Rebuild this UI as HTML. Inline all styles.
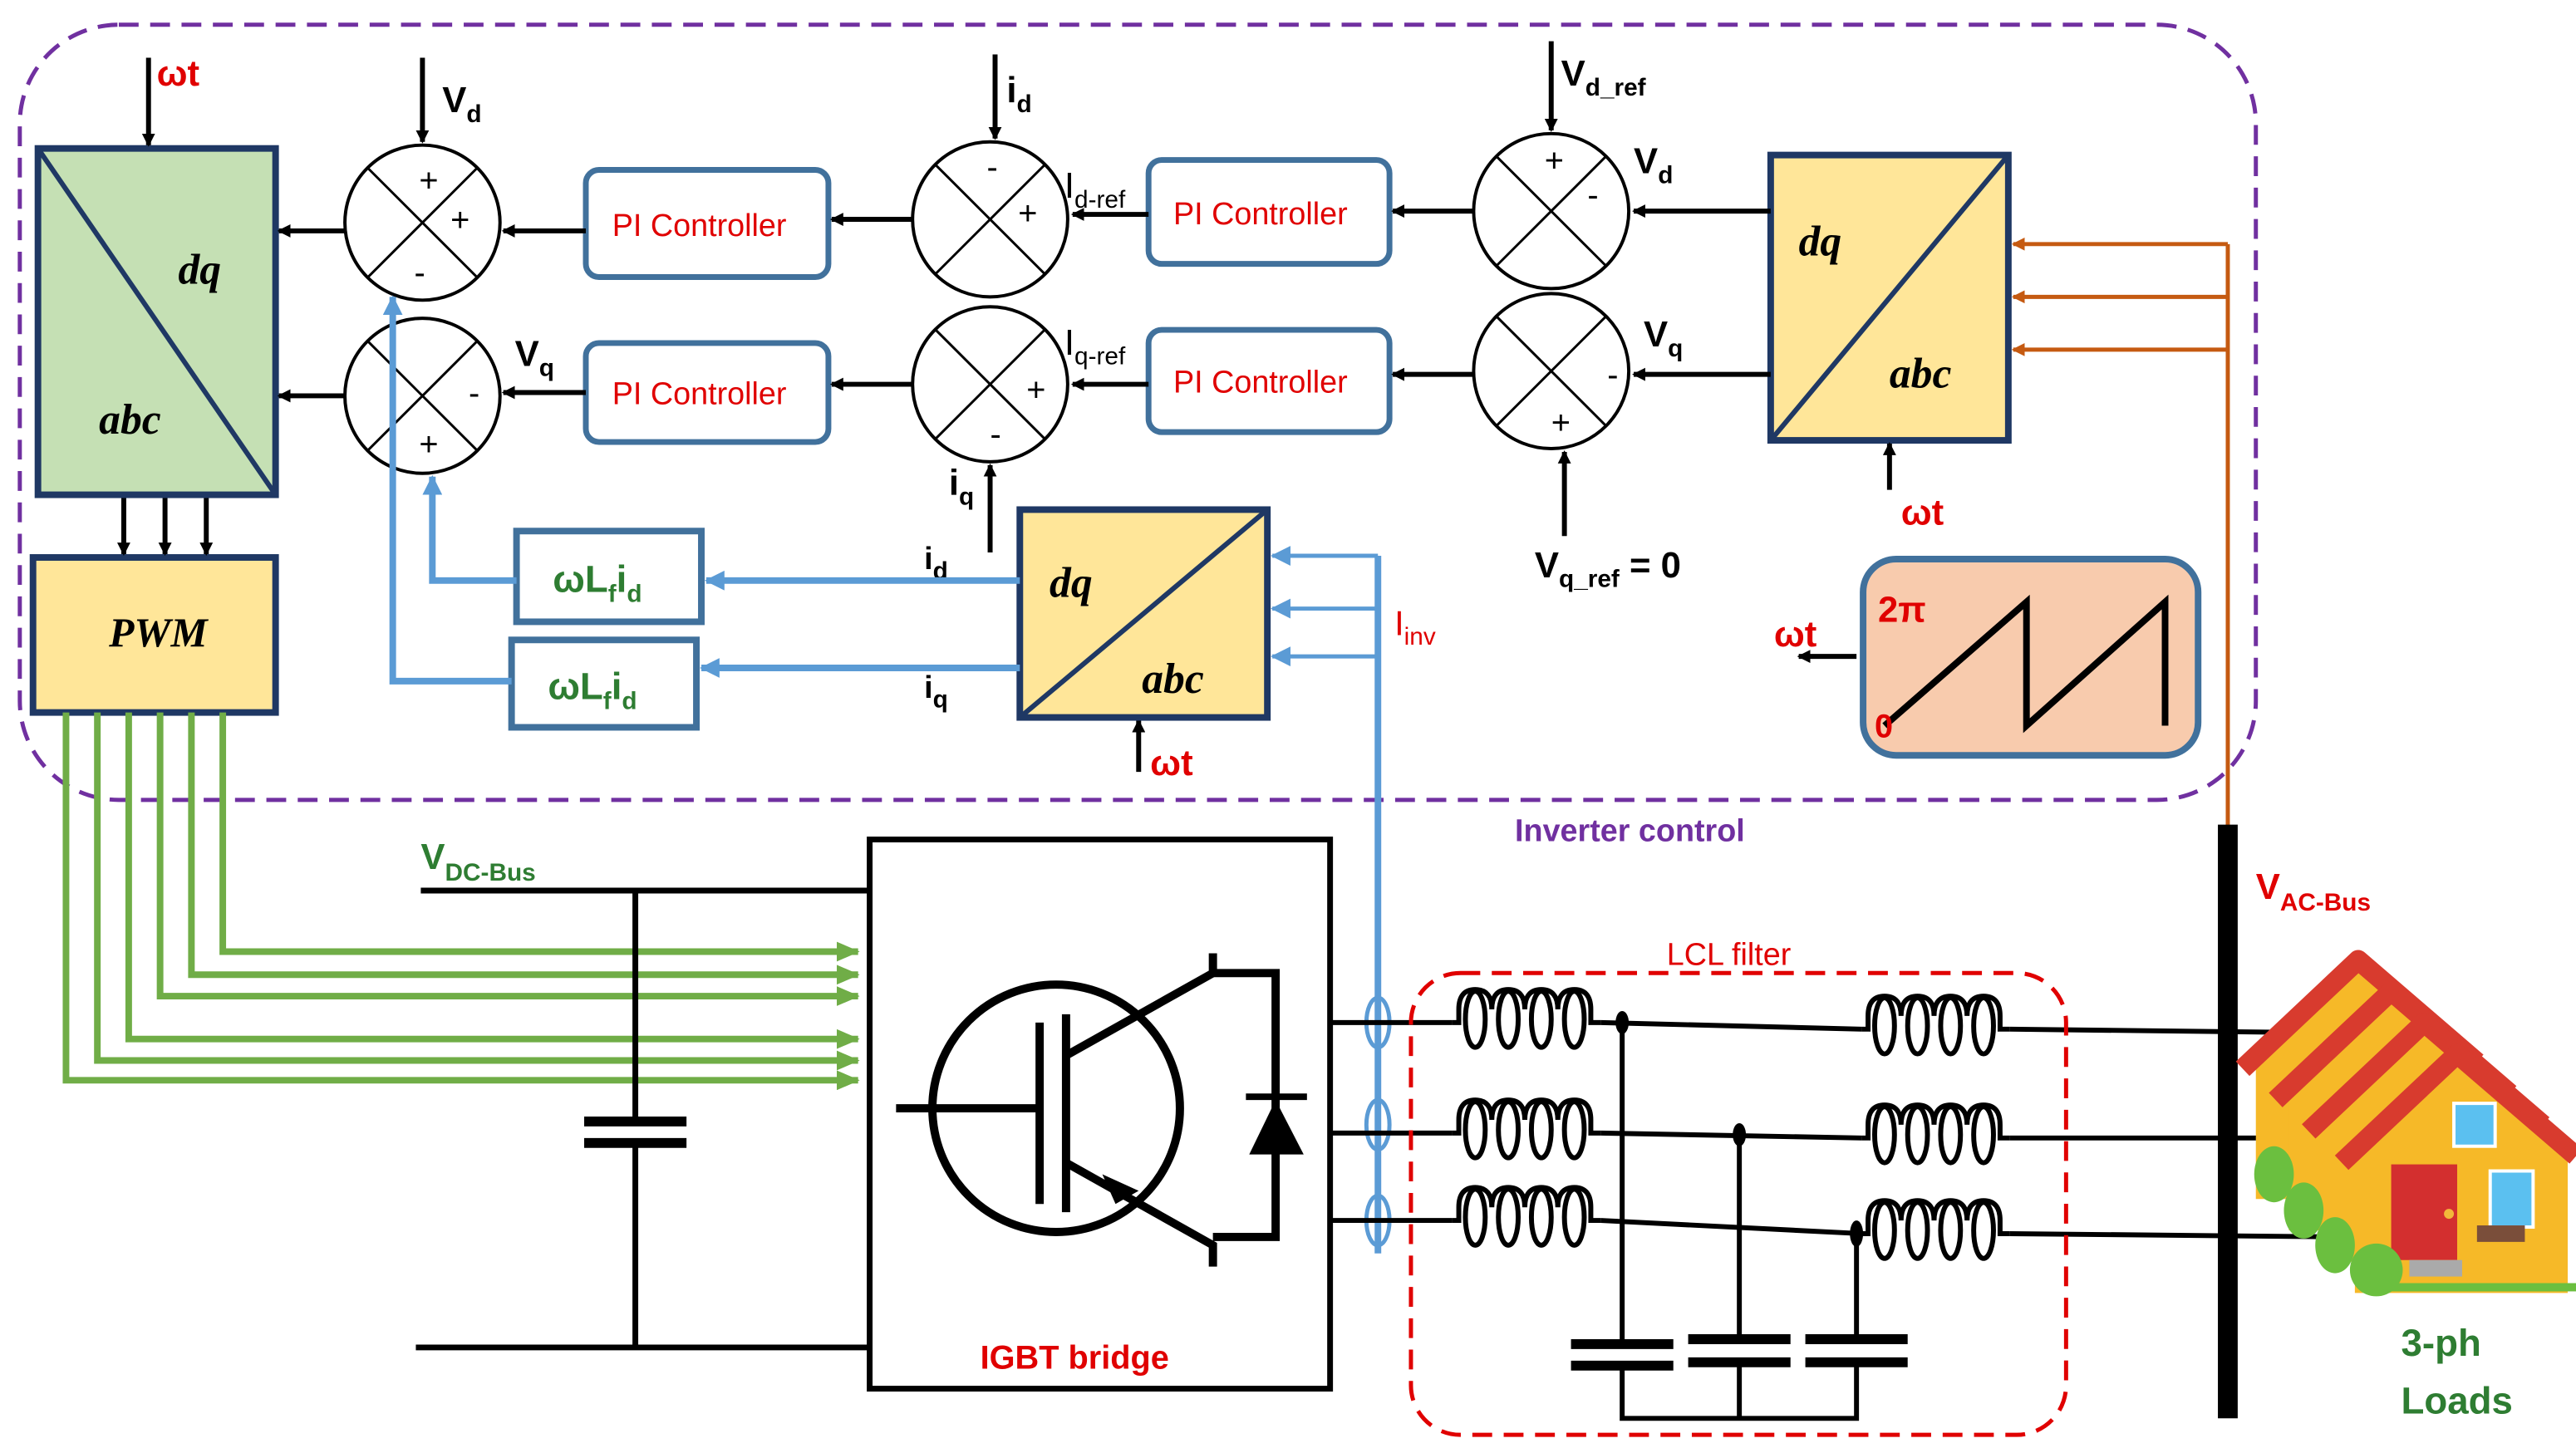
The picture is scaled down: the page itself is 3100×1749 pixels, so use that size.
<!DOCTYPE html>
<html><head><meta charset="utf-8"><style>
html,body{margin:0;padding:0;background:#fff;}
svg{display:block;}
text{font-family:"Liberation Sans",sans-serif;}
.pi{fill:#e00000;font-size:19px;}
.lb{font-weight:bold;font-size:22px;fill:#000;}
.sub{font-size:15px;}
.ser{font-family:"Liberation Serif",serif;font-style:italic;font-weight:bold;font-size:26px;}
</style></head><body>
<svg width="3100" height="1749" viewBox="0 0 1561 881" preserveAspectRatio="none" xmlns="http://www.w3.org/2000/svg">
<defs>
<marker id="ak" markerWidth="8" markerHeight="8" refX="7" refY="4" orient="auto" markerUnits="userSpaceOnUse"><path d="M0,0 L8,4 L0,8 z" fill="#000"/></marker>
<marker id="ab" markerWidth="12" markerHeight="12" refX="11" refY="6" orient="auto" markerUnits="userSpaceOnUse"><path d="M0,0 L12,6 L0,12 z" fill="#5b9bd5"/></marker>
<marker id="ao" markerWidth="8" markerHeight="8" refX="7" refY="4" orient="auto" markerUnits="userSpaceOnUse"><path d="M0,0 L8,4 L0,8 z" fill="#c55a11"/></marker>
<marker id="ag" markerWidth="14" markerHeight="12" refX="13" refY="6" orient="auto" markerUnits="userSpaceOnUse"><path d="M0,0 L14,6 L0,12 z" fill="#70ad47"/></marker>
<g id="coil" fill="none" stroke="#000" stroke-width="3">
<path d="M0,0 L4,0 L4,-8 Q4,-20 14,-20 Q24,-20 24,-8 M24,-8 Q24,-20 34,-20 Q44,-20 44,-8 M44,-8 Q44,-20 54,-20 Q64,-20 64,-8 M64,-8 Q64,-20 74,-20 Q84,-20 84,-8 L84,0 L90,0"/>
<ellipse cx="14" cy="-2" rx="6" ry="17"/>
<ellipse cx="34" cy="-2" rx="6" ry="17"/>
<ellipse cx="54" cy="-2" rx="6" ry="17"/>
<ellipse cx="74" cy="-2" rx="6" ry="17"/>
</g>
<g id="house">
<path d="M-62,58 L0,0 L67,58 L67,145 L-62,145 z" fill="#f6b928"/>
<path d="M-70,66 L0,0 L72,62" fill="none" stroke="#d83b2e" stroke-width="12" stroke-linejoin="round"/>
</g>
</defs>
<rect x="0" y="0" width="1561" height="881" fill="#fff"/>
<!-- inverter control boundary -->
<rect x="12" y="15" width="1355" height="470" rx="60" fill="none" stroke="#7030a0" stroke-width="2.5" stroke-dasharray="12 7"/>
<text x="918" y="510" fill="#7030a0" font-weight="bold" font-size="19">Inverter control</text>

<!-- left dq/abc -->
<rect x="23" y="90" width="144" height="210" fill="#c5e0b4" stroke="#1f3864" stroke-width="4"/>
<line x1="23" y1="90" x2="167" y2="300" stroke="#1f3864" stroke-width="3"/>
<text x="108" y="172" class="ser">dq</text>
<text x="60" y="263" class="ser">abc</text>
<line x1="90" y1="35" x2="90" y2="88" stroke="#000" stroke-width="3" marker-end="url(#ak)"/>
<text x="95" y="52" fill="#e00000" font-weight="bold" font-size="22">ωt</text>
<!-- PWM -->
<rect x="20" y="338" width="147" height="94" fill="#ffe699" stroke="#1f3864" stroke-width="4"/>
<text x="66" y="392" class="ser" style="font-size:25px">PWM</text>
<g stroke="#000" stroke-width="3">
<line x1="75" y1="302" x2="75" y2="336" marker-end="url(#ak)"/>
<line x1="100" y1="302" x2="100" y2="336" marker-end="url(#ak)"/>
<line x1="125" y1="302" x2="125" y2="336" marker-end="url(#ak)"/>
</g>

<!-- summers -->
<g stroke="#000" stroke-width="2" fill="#fff">
<circle cx="256" cy="135" r="47"/><circle cx="256" cy="240" r="47"/>
<circle cx="600" cy="133" r="47"/><circle cx="600" cy="233" r="47"/>
<circle cx="940" cy="128" r="47"/><circle cx="940" cy="225" r="47"/>
</g>
<g stroke="#000" stroke-width="1.5">
<path d="M223,102 L289,168 M289,102 L223,168"/>
<path d="M223,207 L289,273 M289,207 L223,273"/>
<path d="M567,100 L633,166 M633,100 L567,166"/>
<path d="M567,200 L633,266 M633,200 L567,266"/>
<path d="M907,95 L973,161 M973,95 L907,161"/>
<path d="M907,192 L973,258 M973,192 L907,258"/>
</g>
<g font-size="20" fill="#000">
<text x="254" y="116">+</text><text x="273" y="140">+</text><text x="251" y="172">-</text>
<text x="284" y="245">-</text><text x="254" y="276">+</text>
<text x="598" y="108">-</text><text x="617" y="136">+</text>
<text x="622" y="243">+</text><text x="600" y="270">-</text>
<text x="936" y="104">+</text><text x="962" y="125">-</text>
<text x="974" y="234">-</text><text x="940" y="263">+</text>
</g>

<!-- PI controllers -->
<g fill="#fff" stroke="#41719c" stroke-width="3.5">
<rect x="355" y="103" width="147" height="65" rx="8"/>
<rect x="355" y="208" width="147" height="60" rx="8"/>
<rect x="696" y="97" width="146" height="63" rx="8"/>
<rect x="696" y="200" width="146" height="62" rx="8"/>
</g>
<text x="371" y="143" class="pi">PI Controller</text>
<text x="371" y="245" class="pi">PI Controller</text>
<text x="711" y="136" class="pi">PI Controller</text>
<text x="711" y="238" class="pi">PI Controller</text>

<!-- right dq/abc -->
<rect x="1073" y="94" width="144" height="173" fill="#ffe699" stroke="#1f3864" stroke-width="4"/>
<line x1="1073" y1="267" x2="1217" y2="94" stroke="#1f3864" stroke-width="3"/>
<text x="1090" y="155" class="ser">dq</text>
<text x="1145" y="235" class="ser">abc</text>
<line x1="1145" y1="297" x2="1145" y2="269" stroke="#000" stroke-width="3" marker-end="url(#ak)"/>
<text x="1152" y="318" fill="#e00000" font-weight="bold" font-size="22">ωt</text>

<!-- black signal arrows -->
<g stroke="#000" stroke-width="3" fill="none">
<line x1="940" y1="25" x2="940" y2="79" marker-end="url(#ak)"/>
<line x1="1073" y1="128" x2="990" y2="128" marker-end="url(#ak)"/>
<line x1="893" y1="128" x2="844" y2="128" marker-end="url(#ak)"/>
<line x1="696" y1="130" x2="650" y2="130" marker-end="url(#ak)"/>
<line x1="553" y1="133" x2="504" y2="133" marker-end="url(#ak)"/>
<line x1="355" y1="140" x2="305" y2="140" marker-end="url(#ak)"/>
<line x1="209" y1="140" x2="169" y2="140" marker-end="url(#ak)"/>
<line x1="603" y1="33" x2="603" y2="84" marker-end="url(#ak)"/>
<line x1="256" y1="35" x2="256" y2="86" marker-end="url(#ak)"/>
<line x1="1073" y1="227" x2="990" y2="227" marker-end="url(#ak)"/>
<line x1="893" y1="227" x2="844" y2="227" marker-end="url(#ak)"/>
<line x1="696" y1="233" x2="650" y2="233" marker-end="url(#ak)"/>
<line x1="553" y1="233" x2="504" y2="233" marker-end="url(#ak)"/>
<line x1="355" y1="238" x2="305" y2="238" marker-end="url(#ak)"/>
<line x1="209" y1="240" x2="169" y2="240" marker-end="url(#ak)"/>
<line x1="948" y1="325" x2="948" y2="274" marker-end="url(#ak)"/>
<line x1="600" y1="335" x2="600" y2="282" marker-end="url(#ak)"/>
<line x1="690" y1="468" x2="690" y2="437" marker-end="url(#ak)"/>
<line x1="1125" y1="398" x2="1090" y2="398" marker-end="url(#ak)"/>
</g>

<!-- labels -->
<text x="268" y="68" class="lb">V<tspan class="sub" dy="6">d</tspan></text>
<text x="610" y="62" class="lb">i<tspan class="sub" dy="6">d</tspan></text>
<text x="946" y="52" class="lb">V<tspan class="sub" dy="6">d_ref</tspan></text>
<text x="990" y="105" class="lb">V<tspan class="sub" dy="6">d</tspan></text>
<text x="996" y="210" class="lb">V<tspan class="sub" dy="6">q</tspan></text>
<text x="312" y="222" class="lb">V<tspan class="sub" dy="6">q</tspan></text>
<text x="645" y="120" class="lb" style="font-weight:normal">I<tspan class="sub" dy="6">d-ref</tspan></text>
<text x="645" y="215" class="lb" style="font-weight:normal">I<tspan class="sub" dy="6">q-ref</tspan></text>
<text x="575" y="300" class="lb">i<tspan class="sub" dy="6">q</tspan></text>
<text x="930" y="350" class="lb">V<tspan class="sub" dy="6">q_ref</tspan><tspan dy="-6"> = 0</tspan></text>
<text x="560" y="345" class="lb" style="font-size:19px">i<tspan class="sub" dy="6">d</tspan></text>
<text x="560" y="423" class="lb" style="font-size:19px">i<tspan class="sub" dy="6">q</tspan></text>
<text x="845" y="385" fill="#e00000" font-size="21">I<tspan class="sub" dy="6">inv</tspan></text>
<text x="697" y="470" fill="#e00000" font-weight="bold" font-size="22">ωt</text>

<!-- middle dq/abc -->
<rect x="618" y="309" width="150" height="126" fill="#ffe699" stroke="#1f3864" stroke-width="4"/>
<line x1="618" y1="435" x2="768" y2="309" stroke="#1f3864" stroke-width="3"/>
<text x="636" y="362" class="ser">dq</text>
<text x="692" y="420" class="ser">abc</text>

<!-- wLfid boxes -->
<rect x="313" y="322" width="112" height="55" fill="#fff" stroke="#41719c" stroke-width="4"/>
<rect x="310" y="388" width="112" height="53" fill="#fff" stroke="#41719c" stroke-width="4"/>
<text x="335" y="359" fill="#2e7d32" font-weight="bold" font-size="23">ωL<tspan class="sub" dy="6">f</tspan><tspan dy="-6">i</tspan><tspan class="sub" dy="6">d</tspan></text>
<text x="332" y="424" fill="#2e7d32" font-weight="bold" font-size="23">ωL<tspan class="sub" dy="6">f</tspan><tspan dy="-6">i</tspan><tspan class="sub" dy="6">d</tspan></text>

<!-- blue lines -->
<g stroke="#5b9bd5" stroke-width="4" fill="none">
<line x1="618" y1="352" x2="428" y2="352" marker-end="url(#ab)"/>
<polyline points="313,352 262,352 262,289" marker-end="url(#ab)"/>
<line x1="618" y1="405" x2="425" y2="405" marker-end="url(#ab)"/>
<polyline points="310,413 238,413 238,180" marker-end="url(#ab)"/>
<line x1="835" y1="337" x2="835" y2="760"/>
</g>
<g stroke="#5b9bd5" stroke-width="2.5" fill="none">
<line x1="835" y1="337" x2="771" y2="337" marker-end="url(#ab)"/>
<line x1="835" y1="369" x2="771" y2="369" marker-end="url(#ab)"/>
<line x1="835" y1="398" x2="771" y2="398" marker-end="url(#ab)"/>
<ellipse cx="835" cy="620" rx="7" ry="15"/>
<ellipse cx="835" cy="682" rx="7" ry="15"/>
<ellipse cx="835" cy="740" rx="7" ry="15"/>
</g>

<!-- sawtooth -->
<rect x="1129" y="339" width="203" height="119" rx="20" fill="#f8cbad" stroke="#41719c" stroke-width="4"/>
<polyline points="1142,440 1228,365 1228,440 1312,365 1312,440" fill="none" stroke="#000" stroke-width="4"/>
<text x="1138" y="377" fill="#e00000" font-weight="bold" font-size="22">2π</text>
<text x="1136" y="447" fill="#e00000" font-weight="bold" font-size="20">0</text>
<text x="1075" y="392" fill="#e00000" font-weight="bold" font-size="22">ωt</text>

<!-- orange -->
<g stroke="#c55a11" stroke-width="2.5" fill="none">
<line x1="1350" y1="148" x2="1350" y2="502"/>
<line x1="1350" y1="148" x2="1220" y2="148" marker-end="url(#ao)"/>
<line x1="1350" y1="180" x2="1220" y2="180" marker-end="url(#ao)"/>
<line x1="1350" y1="212" x2="1220" y2="212" marker-end="url(#ao)"/>
</g>

<!-- green PWM lines -->
<g stroke="#70ad47" stroke-width="4" fill="none">
<polyline points="40,432 40,655 520,655" marker-end="url(#ag)"/>
<polyline points="59,432 59,643 520,643" marker-end="url(#ag)"/>
<polyline points="78,432 78,630 520,630" marker-end="url(#ag)"/>
<polyline points="97,432 97,604 520,604" marker-end="url(#ag)"/>
<polyline points="116,432 116,591 520,591" marker-end="url(#ag)"/>
<polyline points="135,432 135,577 520,577" marker-end="url(#ag)"/>
</g>

<!-- DC bus -->
<text x="255" y="527" fill="#2e7d32" font-weight="bold" font-size="22">V<tspan class="sub" dy="7">DC-Bus</tspan></text>
<g stroke="#000" stroke-width="3.5" fill="none">
<line x1="255" y1="540" x2="527" y2="540"/>
<line x1="252" y1="817" x2="527" y2="817"/>
<line x1="385" y1="540" x2="385" y2="680"/>
<line x1="385" y1="692" x2="385" y2="817"/>
</g>
<line x1="354" y1="680" x2="416" y2="680" stroke="#000" stroke-width="6"/>
<line x1="354" y1="693" x2="416" y2="693" stroke="#000" stroke-width="6"/>

<!-- IGBT bridge -->
<rect x="527" y="509" width="279" height="333" fill="#fff" stroke="#000" stroke-width="3.5"/>
<text x="594" y="830" fill="#e00000" font-weight="bold" font-size="20">IGBT bridge</text>
<circle cx="640" cy="672" r="75" fill="none" stroke="#000" stroke-width="5"/>
<g stroke="#000" stroke-width="5" fill="none">
<line x1="543" y1="672" x2="630" y2="672"/>
<line x1="630" y1="620" x2="630" y2="730"/>
<line x1="646" y1="615" x2="646" y2="735"/>
<polyline points="646,640 735,590 735,578"/>
<polyline points="646,705 735,755 735,768"/>
<polyline points="735,590 773,590 773,750 735,750"/>
</g>
<path d="M668,712 L690,722 L676,730 z" fill="#000"/>
<path d="M757,700 L790,700 L773,667 z" fill="#000"/>
<line x1="755" y1="665" x2="792" y2="665" stroke="#000" stroke-width="4"/>

<!-- output phases -->
<g stroke="#000" stroke-width="3" fill="none">
<line x1="806" y1="620" x2="880" y2="620"/>
<line x1="806" y1="687" x2="880" y2="687"/>
<line x1="806" y1="740" x2="880" y2="740"/>
<line x1="970" y1="620" x2="1128" y2="624"/>
<line x1="970" y1="687" x2="1128" y2="690"/>
<line x1="970" y1="740" x2="1128" y2="748"/>
<line x1="1218" y1="624" x2="1390" y2="626"/>
<line x1="1218" y1="690" x2="1400" y2="690"/>
<line x1="1218" y1="748" x2="1420" y2="750"/>
<line x1="983" y1="620" x2="983" y2="815"/>
<line x1="1054" y1="688" x2="1054" y2="812"/>
<line x1="1125" y1="748" x2="1125" y2="812"/>
<polyline points="983,828 983,860 1125,860 1125,826"/>
<line x1="1054" y1="826" x2="1054" y2="860"/>
</g>
<g stroke="#000" stroke-width="6">
<line x1="952" y1="815" x2="1014" y2="815"/><line x1="952" y1="828" x2="1014" y2="828"/>
<line x1="1023" y1="812" x2="1085" y2="812"/><line x1="1023" y1="826" x2="1085" y2="826"/>
<line x1="1094" y1="812" x2="1156" y2="812"/><line x1="1094" y1="826" x2="1156" y2="826"/>
</g>
<g fill="#000"><ellipse cx="983" cy="620" rx="4" ry="7"/><ellipse cx="1054" cy="688" rx="4" ry="7"/><ellipse cx="1125" cy="748" rx="4" ry="8"/></g>
<!-- inductors -->
<use href="#coil" x="880" y="620"/>
<use href="#coil" x="880" y="687"/>
<use href="#coil" x="880" y="740"/>
<use href="#coil" x="1128" y="624"/>
<use href="#coil" x="1128" y="690"/>
<use href="#coil" x="1128" y="748"/>
<rect x="855" y="590" width="397" height="280" rx="30" fill="none" stroke="#e00000" stroke-width="2.5" stroke-dasharray="12 7"/>
<text x="1010" y="585" fill="#e00000" font-size="19">LCL filter</text>

<!-- AC bus -->
<line x1="1350" y1="500" x2="1350" y2="860" stroke="#000" stroke-width="12"/>
<text x="1367" y="545" fill="#e00000" font-weight="bold" font-size="22">V<tspan class="sub" dy="7">AC-Bus</tspan></text>

<!-- houses -->
<use href="#house" x="1429" y="582"/>
<use href="#house" x="1449" y="601"/>
<use href="#house" x="1469" y="620"/>
<use href="#house" x="1489" y="639"/>
<rect x="1449" y="706" width="40" height="58" fill="#d32f2f"/>
<circle cx="1484" cy="736" r="3" fill="#f2b83a"/>
<rect x="1509" y="710" width="26" height="34" fill="#5bc0f0" stroke="#fff" stroke-width="2"/>
<rect x="1487" y="669" width="25" height="26" fill="#5bc0f0" stroke="#fff" stroke-width="2"/>
<rect x="1501" y="743" width="29" height="10" fill="#7a4e3a"/>
<rect x="1460" y="764" width="32" height="10" fill="#aaa"/>
<rect x="1440" y="778" width="121" height="5" fill="#6bbf3f"/>
<g fill="#6bbf3f">
<ellipse cx="1378" cy="712" rx="12" ry="17"/>
<ellipse cx="1396" cy="734" rx="12" ry="17"/>
<ellipse cx="1415" cy="755" rx="12" ry="17"/>
<ellipse cx="1440" cy="770" rx="16" ry="16"/>
</g>
<text x="1455" y="822" fill="#2e7d32" font-weight="bold" font-size="23">3-ph</text>
<text x="1455" y="857" fill="#2e7d32" font-weight="bold" font-size="23">Loads</text>
</svg>
</body></html>
